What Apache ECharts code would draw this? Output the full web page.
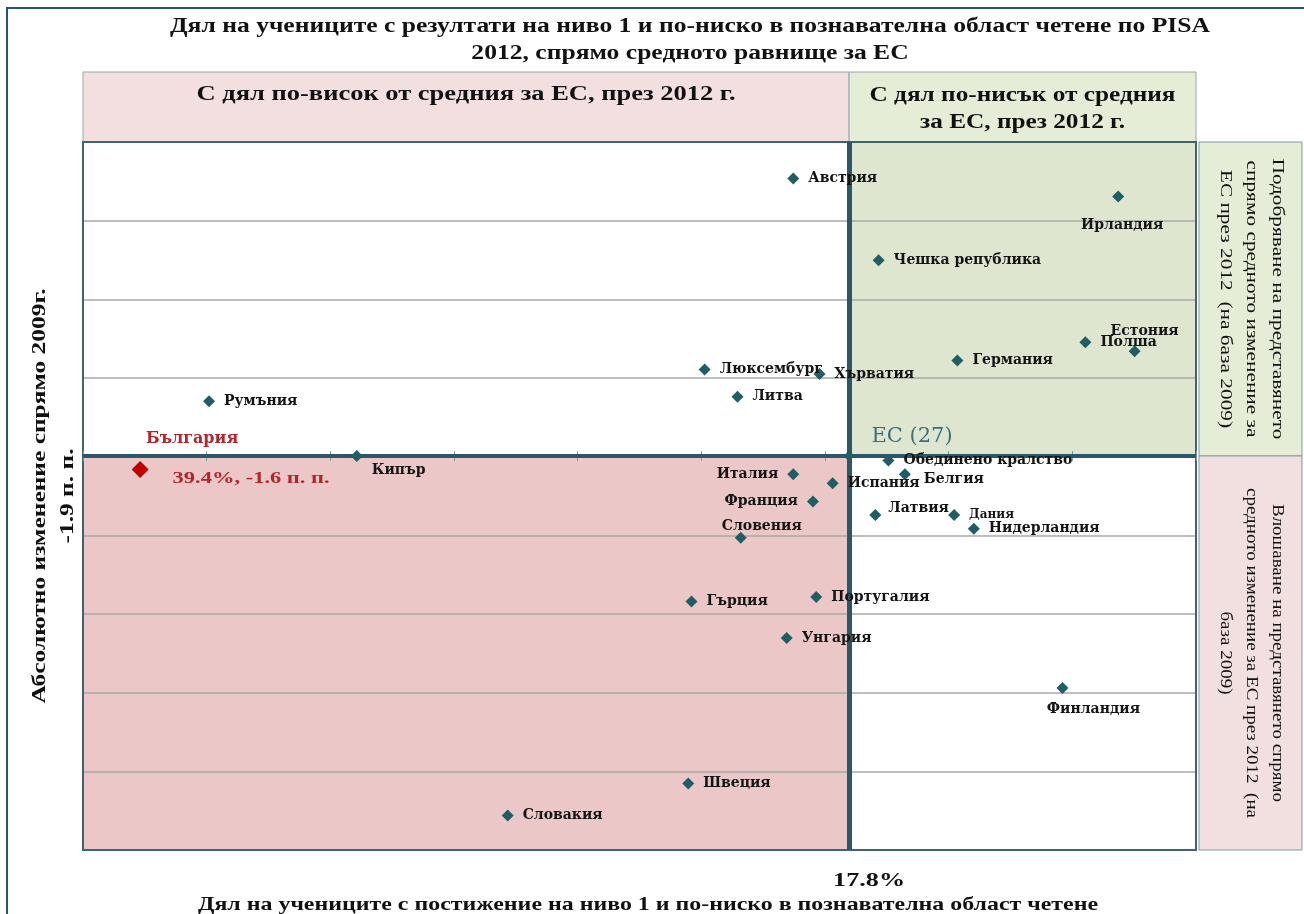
<!DOCTYPE html>
<html><head><meta charset="utf-8">
<script src="https://cdn.jsdelivr.net/npm/echarts@6/dist/echarts.min.js"></script>
<style>html,body{margin:0;padding:0;background:#fff}#c{width:1304px;height:914px}</style>
</head><body><div id="c"></div>
<script>
// ---------- DATA ----------
const countries = ['Австрия','Ирландия','Чешка република','Естония','Полша','Германия','Люксембург','Хърватия','Литва','Румъния','Кипър','Италия','Испания','Франция','Словения','Гърция','Португалия','Унгария','Финландия','Швеция','Словакия','Обединено кралство','Белгия','Латвия','Дания','Нидерландия'];
// share of low achievers (level 1 and below) in reading, PISA 2012, %
const share2012 = [19.5, 9.6, 16.9, 9.1, 10.6, 14.5, 22.2, 18.7, 21.2, 37.3, 32.8, 19.5, 18.3, 18.9, 21.1, 22.6, 18.8, 19.7, 11.3, 22.7, 28.2, 16.6, 16.1, 17.0, 14.6, 14.0];
// absolute change vs 2009, percentage points
const change = [-8.0, -7.6, -6.2, -4.2, -4.4, -4.0, -3.8, -3.7, -3.2, -3.1, -1.9, -1.5, -1.3, -0.9, -0.1, 1.3, 1.2, 2.1, 3.2, 5.3, 6.0, -1.8, -1.5, -0.6, -0.6, -0.3];
const euName = 'ЕС (27)';
const euShare = 17.8, euChange = -1.9;
const bgName = 'България';
const bgShare = 39.4, bgChange = -1.6;
// axis extents (9 equal divisions each)
const xMin = 7.23, xMax = 41.14;
const yMin = -8.80, yMax = 6.76;

// ---------- TEXTS ----------
const titleText = 'Дял на учениците с резултати на ниво 1 и по-ниско в познавателна област четене по PISA\n2012, спрямо средното равнище за ЕС';
const headHigh = 'С дял по-висок от средния за ЕС, през 2012 г.';
const headLow = 'С дял по-нисък от средния\nза ЕС, през 2012 г.';
const sideUp = 'Подобряване на представянето\nспрямо средното изменение за\nЕС през 2012  (на база 2009)';
const sideDown = 'Влошаване на представянето спрямо\nсредното изменение за ЕС през 2012  (на\nбаза 2009)';
const yTitle = 'Абсолютно изменение спрямо 2009г.\n' + euChange + ' п. п.';
const xTitle = 'Дял на учениците с постижение на ниво 1 и по-ниско в познавателна област четене';

// ---------- STYLE ----------
const SERIF = '"Liberation Serif","Times New Roman",serif';
const LABELFONT = '"DejaVu Serif","Liberation Serif",serif';
const TEAL = '#1f5e66';
const LINE = '#2b5868';
const labelPlace = {
  'Ирландия': {position:'inside', offset:[4,29]},
  'Естония': {position:'inside', offset:[10,-20]},
  'Кипър': {position:'right', offset:[0,14]},
  'Италия': {position:'left'},
  'Франция': {position:'left'},
  'Словения': {position:'inside', offset:[21,-12]},
  'Финландия': {position:'inside', offset:[31,21]},
  'Белгия': {position:'right', offset:[4,5]},
  'Латвия': {position:'right', offset:[-2,-7]},
  'Дания': {position:'right', fontSize:12}
};

const pts = countries.map((n,i)=>{
  const lp = labelPlace[n] || {};
  return {name:n, value:[share2012[i], change[i]],
    label:Object.assign({show:true, formatter:n, position:'right', distance:9}, lp)};
});

const tickAxis = (inside)=>({type:'value', min:0, max:9, interval:1, position:'bottom', z:2.5,
  axisLine:{show:false, onZero:false}, axisLabel:{show:false}, splitLine:{show:false},
  axisTick:{show:true, inside:inside, length:5, lineStyle:{color:'#7d9ca2', width:1}}});

const option = {
  animation:false,
  backgroundColor:'#fff',
  grid:{left:83, right:108, top:142, bottom:64, containLabel:false},
  xAxis:[
    {type:'value', min:xMin, max:xMax, inverse:true, position:'bottom', z:2,
     axisLine:{show:true, onZero:false, lineStyle:{color:'#3d6570', width:2}},
     axisTick:{show:false}, axisLabel:{show:false}, splitLine:{show:false}},
    {type:'value', min:0, max:9, interval:1, position:'top', z:2,
     axisLine:{show:true, onZero:false, lineStyle:{color:'#3d6570', width:2}},
     axisTick:{show:false}, axisLabel:{show:false}, splitLine:{show:false}},
    tickAxis(false), tickAxis(true)
  ],
  yAxis:[
    {type:'value', min:yMin, max:yMax, inverse:true, position:'left', z:2,
     axisLine:{show:true, onZero:false, lineStyle:{color:'#3d6570', width:2}},
     axisTick:{show:false}, axisLabel:{show:false}, splitLine:{show:false}},
    {type:'value', min:0, max:9, interval:1, position:'right', z:2,
     axisLine:{show:true, onZero:false, lineStyle:{color:'#3d6570', width:2}},
     axisTick:{show:false}, axisLabel:{show:false},
     splitLine:{show:true, lineStyle:{color:'#a8a8a8', width:1.5}}}
  ],
  series:[
    {type:'scatter', name:'countries', xAxisIndex:0, yAxisIndex:0, z:4,
     symbol:'diamond', symbolSize:12, itemStyle:{color:TEAL, opacity:1},
     label:{color:'#141414', fontFamily:LABELFONT, fontWeight:'bold', fontSize:14},
     emphasis:{disabled:true},
     data:pts,
     markArea:{silent:true, z:1, data:[
       [{xAxis:euShare, yAxis:yMin, itemStyle:{color:'#dfe6cf'}}, {xAxis:xMin, yAxis:euChange}],
       [{xAxis:xMax, yAxis:euChange, itemStyle:{color:'#ecc7c7'}}, {xAxis:euShare, yAxis:yMax}]
     ]},
     markLine:{silent:true, z:3, symbol:['none','none'], label:{show:false},
       lineStyle:{color:LINE, type:'solid'},
       data:[{xAxis:euShare, lineStyle:{width:5}}, {yAxis:euChange, lineStyle:{width:4}}]}
    },
    {type:'scatter', name:'eu', z:5, symbol:'diamond', symbolSize:11, itemStyle:{color:TEAL, opacity:1},
     emphasis:{disabled:true},
     label:{show:true, formatter:euName, position:'inside', offset:[63,-19], color:'#3d6e7c',
       fontFamily:LABELFONT, fontSize:21},
     data:[[euShare, euChange]]},
    {type:'scatter', name:'bg', z:5, symbol:'diamond', symbolSize:17, itemStyle:{color:'#c00000', opacity:1},
     emphasis:{disabled:true},
     label:{show:true, formatter:bgName, position:'inside', offset:[52,-31], color:'#b3262b',
       fontFamily:LABELFONT, fontWeight:'bold', fontSize:16},
     data:[[bgShare, bgChange]]}
  ]
};

const chart = echarts.init(document.getElementById('c'), null, {renderer:'canvas'});
chart.setOption(option);

// ---------- LAYOUT GRAPHICS ----------
const ctx = document.createElement('canvas').getContext('2d');
function measure(text, font){ ctx.font = font; return Math.max(...text.split('\n').map(l=>ctx.measureText(l).width)); }
function txt(cx, cy, text, o){
  const font = (o.bold?'bold ':'') + o.size + 'px ' + SERIF;
  const w = measure(text, font);
  const sx = o.width ? o.width / w : 1;
  return {type:'text', x:cx, y:cy, rotation:o.rot||0, scaleX:sx, scaleY:1, originX:0, originY:0, z:20,
    style:{text:text, font:font, fill:o.color||'#111', align:'center', verticalAlign:'middle',
      textAlign:'center', textVerticalAlign:'middle', lineHeight:o.lh||o.size*1.2}};
}
const P = (x,y)=>chart.convertToPixel({seriesIndex:0},[x,y]);
const tl = P(xMax, yMin), br = P(xMin, yMax), c0 = P(euShare, euChange), bg = P(bgShare, bgChange);
const gl = tl[0], gt = tl[1], gr = br[0], gb = br[1], cx = c0[0], cy = c0[1];
const headTop = 72, sideL = gr + 3, sideR = 1302;

// move the tick axes onto the horizontal centre line
chart.setOption({xAxis:[{}, {}, {offset:-(gb-cy)}, {offset:-(gb-cy)}]});

const g = [
  {type:'rect', shape:{x:7, y:8, width:1400, height:1000}, style:{fill:'none', stroke:'#1f5a66', lineWidth:2}, z:1},
  {type:'rect', shape:{x:gl, y:headTop, width:cx-gl, height:gt-headTop}, style:{fill:'#f4dfe0', stroke:'#94aaa8', lineWidth:1}, z:1},
  {type:'rect', shape:{x:cx, y:headTop, width:gr-cx, height:gt-headTop}, style:{fill:'#e6edd6', stroke:'#94aaa8', lineWidth:1}, z:1},
  {type:'rect', shape:{x:sideL, y:gt, width:sideR-sideL, height:cy-gt}, style:{fill:'#e6edd6', stroke:'#7f9c9c', lineWidth:1}, z:1},
  {type:'rect', shape:{x:sideL, y:cy, width:sideR-sideL, height:gb-cy}, style:{fill:'#f2dfe0', stroke:'#7f9c9c', lineWidth:1}, z:1},
  txt(690, 40, titleText, {size:20, bold:true, width:1040, lh:27}),
  txt((gl+cx)/2, 95, headHigh, {size:20, bold:true, width:539}),
  txt((cx+gr)/2, 109, headLow, {size:20, bold:true, width:306, lh:27}),
  txt(1251, (gt+cy)/2, sideUp, {size:17, rot:-Math.PI/2, width:281, lh:26}),
  txt(1251, (cy+gb)/2, sideDown, {size:17, rot:-Math.PI/2, width:330, lh:26}),
  txt(54, (gt+gb)/2, yTitle, {size:19, bold:true, rot:Math.PI/2, width:415, lh:28}),
  txt(cx+20, 881, euShare + '%', {size:19, bold:true, width:72}),
  txt(648, 905, xTitle, {size:19, bold:true, width:900}),
  txt(bg[0]+111, bg[1]+9, bgShare + '%, ' + bgChange + ' п. п.', {size:16, bold:true, color:'#b3262b', width:157})
];
chart.setOption({graphic:g});
</script>
</body></html>
